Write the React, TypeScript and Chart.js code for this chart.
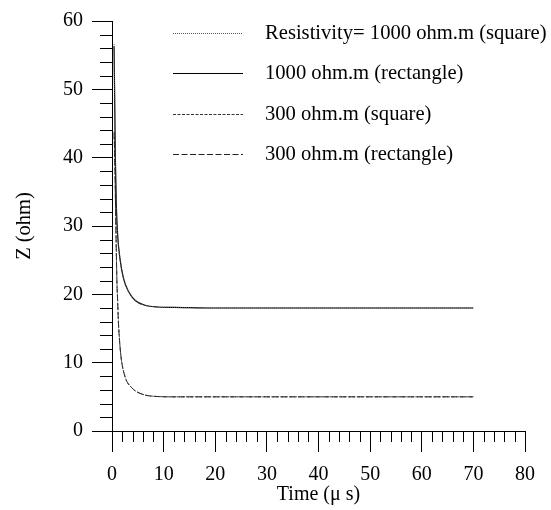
import React, { useEffect, useRef } from "react";
import { Chart, registerables } from "chart.js";

Chart.register(...registerables);

const seriesLabels = [
  "Resistivity= 1000 ohm.m (square)",
  "1000 ohm.m (rectangle)",
  "300 ohm.m (square)",
  "300 ohm.m (rectangle)",
];

const time1000 = [0.4, 0.5, 0.64, 0.83, 1.1, 1.55, 2.2, 3.2, 4.5, 6.4, 9, 12, 15, 20, 30, 40, 50, 60, 70];
const z1000Square = [56.6, 50.2, 40.6, 33.4, 28.7, 25.3, 22.5, 20.4, 19.1, 18.4, 18.15, 18.08, 18.05, 18.0, 18.0, 18.0, 18.0, 18.0, 18.0];
const z1000Rect = [56.3, 49.9, 40.4, 33.2, 28.6, 25.2, 22.4, 20.4, 19.1, 18.4, 18.15, 18.08, 18.05, 18.0, 18.0, 18.0, 18.0, 18.0, 18.0];

const time300 = [0.4, 0.52, 0.78, 0.97, 1.1, 1.23, 1.36, 1.74, 2.5, 3.8, 5.8, 8.3, 12, 20, 30, 40, 50, 60, 70];
const z300Square = [43.8, 40.6, 28.7, 21.5, 19.0, 16.2, 14.4, 10.9, 8.0, 6.35, 5.4, 5.07, 5.0, 5.0, 5.0, 5.0, 5.0, 5.0, 5.0];
const z300Rect = [43.5, 40.4, 28.5, 21.3, 18.9, 16.1, 14.3, 10.9, 8.0, 6.35, 5.4, 5.07, 5.0, 5.0, 5.0, 5.0, 5.0, 5.0, 5.0];

const xTicks = [0, 10, 20, 30, 40, 50, 60, 70, 80];
const yTicks = [0, 10, 20, 30, 40, 50, 60];

const FONT = "'Liberation Serif', 'Times New Roman', serif";

const toPoints = (xs: number[], ys: number[]) => xs.map((x, i) => ({ x, y: ys[i] }));

const minorTicksPlugin = {
  id: "minorTicks",
  afterDraw(chart: any) {
    const { ctx, chartArea, scales } = chart;
    const xs = scales.x;
    const ys = scales.y;
    ctx.save();
    ctx.strokeStyle = "#000";
    ctx.lineWidth = 1;
    ctx.beginPath();
    for (let v = xs.min; v <= xs.max; v += 2) {
      if (v % 10 === 0) continue;
      const px = Math.round(xs.getPixelForValue(v)) + 0.5;
      ctx.moveTo(px, chartArea.bottom);
      ctx.lineTo(px, chartArea.bottom + 11);
    }
    for (let v = ys.min; v <= ys.max; v += 2) {
      if (v % 10 === 0) continue;
      const py = Math.round(ys.getPixelForValue(v)) + 0.5;
      ctx.moveTo(chartArea.left - 12, py);
      ctx.lineTo(chartArea.left, py);
    }
    ctx.stroke();
    ctx.restore();
  },
};

const legendPlugin = {
  id: "customLegend",
  afterDraw(chart: any) {
    const { ctx, chartArea } = chart;
    ctx.save();
    ctx.font = `20.6px ${FONT}`;
    ctx.fillStyle = "#000";
    ctx.textBaseline = "middle";
    chart.data.datasets.forEach((ds: any, i: number) => {
      const y = Math.round(chartArea.top + 11.5 + i * 40.5) + 0.5;
      const x0 = chartArea.left + 61;
      const x1 = chartArea.left + 131;
      ctx.beginPath();
      ctx.strokeStyle = ds.borderColor;
      ctx.lineWidth = ds.borderWidth;
      ctx.setLineDash(ds.borderDash || []);
      ctx.moveTo(x0, y);
      ctx.lineTo(x1, y);
      ctx.stroke();
      ctx.setLineDash([]);
      ctx.fillText(ds.label, chartArea.left + 153, y);
    });
    ctx.restore();
  },
};

export default function App() {
  const ref = useRef<HTMLCanvasElement | null>(null);

  useEffect(() => {
    document.body.style.margin = "0";
    if (!ref.current) return;
    const chart = new Chart(ref.current, {
      type: "line",
      data: {
        datasets: [
          {
            label: seriesLabels[0],
            data: toPoints(time1000, z1000Square),
            borderColor: "#555",
            borderWidth: 1,
            borderDash: [1, 1],
          },
          {
            label: seriesLabels[1],
            data: toPoints(time1000, z1000Rect),
            borderColor: "#000",
            borderWidth: 1.2,
            borderDash: [],
          },
          {
            label: seriesLabels[2],
            data: toPoints(time300, z300Square),
            borderColor: "#333",
            borderWidth: 1,
            borderDash: [3, 1.5],
          },
          {
            label: seriesLabels[3],
            data: toPoints(time300, z300Rect),
            borderColor: "#222",
            borderWidth: 1,
            borderDash: [6, 2.5],
          },
        ] as any,
      },
      options: {
        responsive: false,
        animation: false,
        elements: {
          point: { radius: 0 },
          line: { cubicInterpolationMode: "monotone", fill: false },
        },
        layout: { padding: { left: 0, top: 17, right: 26, bottom: 0 } },
        plugins: {
          legend: { display: false },
          tooltip: { enabled: false },
        },
        scales: {
          x: {
            type: "linear",
            min: 0,
            max: 80,
            afterBuildTicks: (s: any) => {
              s.ticks = xTicks.map((v) => ({ value: v }));
            },
            afterFit: (s: any) => {
              s.height = 79;
            },
            ticks: {
              color: "#000",
              font: { family: FONT, size: 20 },
              padding: 11,
              maxRotation: 0,
              autoSkip: false,
            },
            grid: {
              display: true,
              drawOnChartArea: false,
              drawTicks: true,
              tickLength: 21,
              color: "#000",
            },
            border: { display: true, color: "#000", width: 1 },
            title: {
              display: true,
              text: "Time (μ s)",
              color: "#000",
              font: { family: FONT, size: 20 },
              padding: { top: 0, bottom: 3 },
            },
          },
          y: {
            type: "linear",
            min: 0,
            max: 60,
            afterBuildTicks: (s: any) => {
              s.ticks = yTicks.map((v) => ({ value: v }));
            },
            afterFit: (s: any) => {
              s.width = 112;
            },
            ticks: {
              color: "#000",
              font: { family: FONT, size: 20 },
              padding: 9,
              autoSkip: false,
            },
            grid: {
              display: true,
              drawOnChartArea: false,
              drawTicks: true,
              tickLength: 20,
              color: "#000",
            },
            border: { display: true, color: "#000", width: 1 },
            title: {
              display: true,
              text: "Z (ohm)",
              color: "#000",
              font: { family: FONT, size: 20.5 },
              padding: { top: 12, bottom: 0 },
            },
          },
        },
      },
      plugins: [minorTicksPlugin, legendPlugin],
    });
    return () => chart.destroy();
  }, []);

  return <canvas ref={ref} width={551} height={510} style={{ display: "block" }} />;
}
